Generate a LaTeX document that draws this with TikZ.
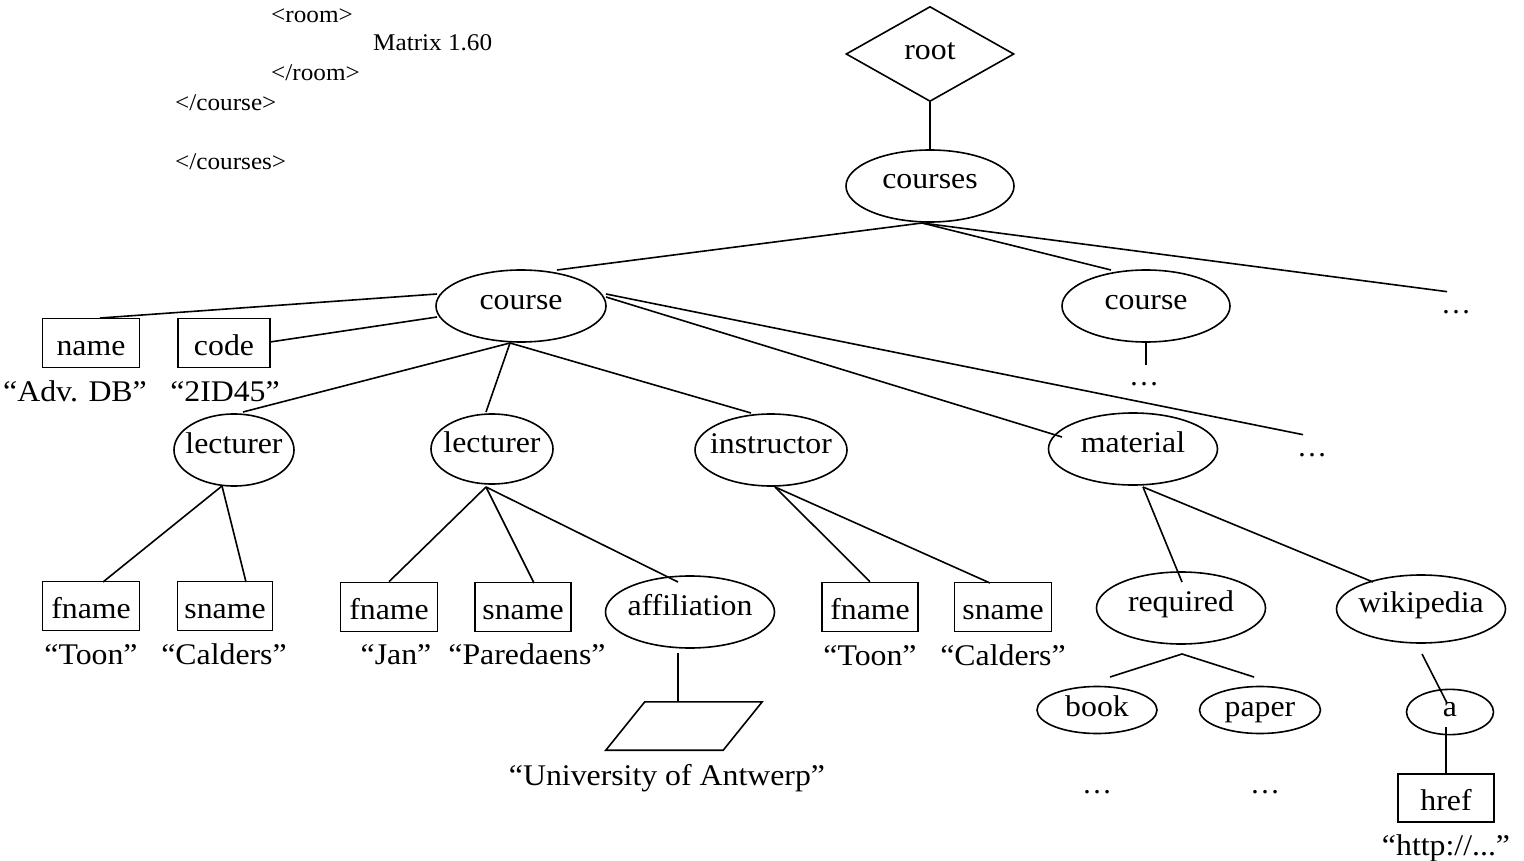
\documentclass[tikz,border=0pt]{standalone}
\usepackage{fontspec}
\setmainfont{Liberation Serif}
\usepackage{graphicx}
\usetikzlibrary{shapes.geometric,calc}
\newcommand\hs[1]{\makebox[0pt]{\scalebox{1.06}[1]{#1}}}
\newcommand\hsl[1]{\scalebox{1.05}[1]{#1}}
\begin{document}
\begin{tikzpicture}[x=1pt,y=-1pt,
  mainfont/.style={font=\fontsize{30}{33}\selectfont},
  ell/.style={mainfont,draw,ellipse,line width=1.6pt,inner sep=0,text height=19pt,text depth=13pt},
  bx/.style={mainfont,draw,rectangle,line width=1.6pt,inner sep=0,minimum height=49,text height=26pt,text depth=1.5pt},
  lbl/.style={mainfont,inner sep=0,anchor=base},
  dots/.style={mainfont,inner sep=0,anchor=base},
  conn/.style={line width=1.6pt},
  xml/.style={font=\fontsize{24}{26}\selectfont,inner sep=0,anchor=base west}]
\useasboundingbox (0,0) rectangle (1524,861);
% xml fragment
\node[xml] (x1) at (271,23) {\hsl{<room>}};
\node[xml] (x2) at (373,51) {\hsl{Matrix 1.60}};
\node[xml] (x3) at (271,81) {\hsl{</room>}};
\node[xml] (x4) at (175,111) {\hsl{</course>}};
\node[xml] (x5) at (175,170) {\hsl{</courses>}};
% nodes
\node[mainfont,draw,diamond,line width=1.6pt,inner sep=0,minimum width=168,minimum height=95,text height=19pt,text depth=7pt] (root) at (930,54) {\hs{root}};
\node[ell,minimum width=168,minimum height=72] (courses) at (930,186) {\hs{courses}};
\node[ell,minimum width=170,minimum height=72] (course1) at (521,306) {\hs{course}};
\node[ell,minimum width=168,minimum height=72] (course2) at (1146,306) {\hs{course}};
\node[dots] (dotsA) at (1456,313) {…};
\node[dots] (dotsB) at (1144,385) {…};
\node[bx,minimum width=97] (name) at (91,343) {\hs{name}};
\node[bx,minimum width=92] (code) at (224,343) {\hs{code}};
\node[lbl] (nameval) at (75,401) {\hs{“Adv. DB”}};
\node[lbl] (codeval) at (225,401) {\hs{“2ID45”}};
\node[ell,minimum width=120,minimum height=72] (lect1) at (234,450) {\hs{lecturer}};
\node[ell,minimum width=122,minimum height=70] (lect2) at (492,449) {\hs{lecturer}};
\node[ell,minimum width=152,minimum height=72] (instr) at (771,450) {\hs{instructor}};
\node[ell,minimum width=169,minimum height=72] (material) at (1133,449) {\hs{material}};
\node[dots] (dotsC) at (1312,456) {…};
\node[bx,minimum width=97] (fname1) at (91,606) {\hs{fname}};
\node[bx,minimum width=95] (sname1) at (225,606) {\hs{sname}};
\node[lbl] (v1) at (91,664) {\hs{“Toon”}};
\node[lbl] (v2) at (224,664) {\hs{“Calders”}};
\node[bx,minimum width=97] (fname2) at (389,607) {\hs{fname}};
\node[bx,minimum width=96] (sname2) at (523,607) {\hs{sname}};
\node[lbl] (v3) at (396,664) {\hs{“Jan”}};
\node[lbl] (v4) at (527,664) {\hs{“Paredaens”}};
\node[ell,minimum width=169,minimum height=72] (affil) at (690,612) {\hs{affiliation}};
\node[inner sep=0,minimum width=156,minimum height=48] (uni) at (684,726) {};
\draw[conn] ($(uni.north west)+(39,0)$) -- (uni.north east) -- ($(uni.south east)+(-39,0)$) -- (uni.south west) -- cycle;
\node[lbl] (univ) at (667,785) {\hs{“University of Antwerp”}};
\node[bx,minimum width=96] (fname3) at (870,607) {\hs{fname}};
\node[bx,minimum width=97] (sname3) at (1003,607) {\hs{sname}};
\node[lbl] (v5) at (870,665) {\hs{“Toon”}};
\node[lbl] (v6) at (1003,665) {\hs{“Calders”}};
\node[ell,minimum width=169,minimum height=72] (required) at (1181,608) {\hs{required}};
\node[ell,minimum width=169,minimum height=68] (wiki) at (1421,609) {\hs{wikipedia}};
\node[ell,minimum width=120,minimum height=47,text height=20pt,text depth=8pt] (book) at (1097,710) {\hs{book}};
\node[ell,minimum width=121,minimum height=47,text height=20pt,text depth=8pt] (paper) at (1260,710) {\hs{paper}};
\node[dots] (dotsD) at (1097,793) {…};
\node[dots] (dotsE) at (1265,793) {…};
\node[ell,minimum width=87,minimum height=40,text height=20pt,text depth=12pt] (a) at (1450,712) {\hs{a}};
\node[bx,minimum width=96,minimum height=48] (href) at (1446,798) {\hs{href}};
\node[lbl] (http) at (1446,855) {\hs{“http://...”}};
% connectors
\draw[conn] (root.south) -- (courses.north);
\draw[conn] ($(courses)+(-8,37)$) -- ($(course1)+(36,-36)$);
\draw[conn] ($(courses)+(-8,37)$) -- ($(course2)+(-35,-36)$);
\draw[conn] ($(courses)+(-8,37)$) -- ($(dotsA)+(-9,-20)$);
\draw[conn] ($(course2.south)$) -- ($(dotsB)+(2,-19)$);
\draw[conn] ($(course1)+(-84,-12)$) -- ($(name)+(9,-25)$);
\draw[conn] ($(course1)+(-84,11)$) -- ($(code)+(46,-1)$);
\draw[conn] ($(course1)+(-11,37)$) -- ($(lect1)+(9,-38)$);
\draw[conn] ($(course1)+(-11,37)$) -- ($(lect2)+(-6,-37)$);
\draw[conn] ($(course1)+(-11,37)$) -- ($(instr)+(-20,-37)$);
\draw[conn] ($(course1)+(85,-9)$) -- ($(material)+(-71,-12)$);
\draw[conn] ($(course1)+(85,-12)$) -- ($(dotsC)+(-9,-20)$);
\draw[conn] ($(lect1)+(-12,36)$) -- ($(fname1)+(12,-24)$);
\draw[conn] ($(lect1)+(-12,36)$) -- ($(sname1)+(21,-24)$);
\draw[conn] ($(lect2)+(-6,38)$) -- (fname2.north);
\draw[conn] ($(lect2)+(-6,38)$) -- ($(sname2)+(11,-24)$);
\draw[conn] ($(lect2)+(-6,38)$) -- ($(affil)+(-12,-30)$);
\draw[conn] ($(affil)+(-12,41)$) -- ($(uni.north)+(-6,0)$);
\draw[conn] ($(instr)+(4,37)$) -- (fname3.north);
\draw[conn] ($(instr)+(4,37)$) -- ($(sname3)+(-13,-24)$);
\draw[conn] ($(material)+(10,38)$) -- ($(required)+(1,-26)$);
\draw[conn] ($(material)+(10,38)$) -- ($(wiki)+(-48,-27)$);
\draw[conn] ($(book)+(13,-33)$) -- ($(required)+(1,46)$) -- ($(paper)+(-6,-33)$);
\draw[conn] ($(wiki)+(1,45)$) -- ($(a)+(-3,-9)$);
\draw[conn] ($(a)+(-4,15)$) -- (href.north);
\end{tikzpicture}
\end{document}
